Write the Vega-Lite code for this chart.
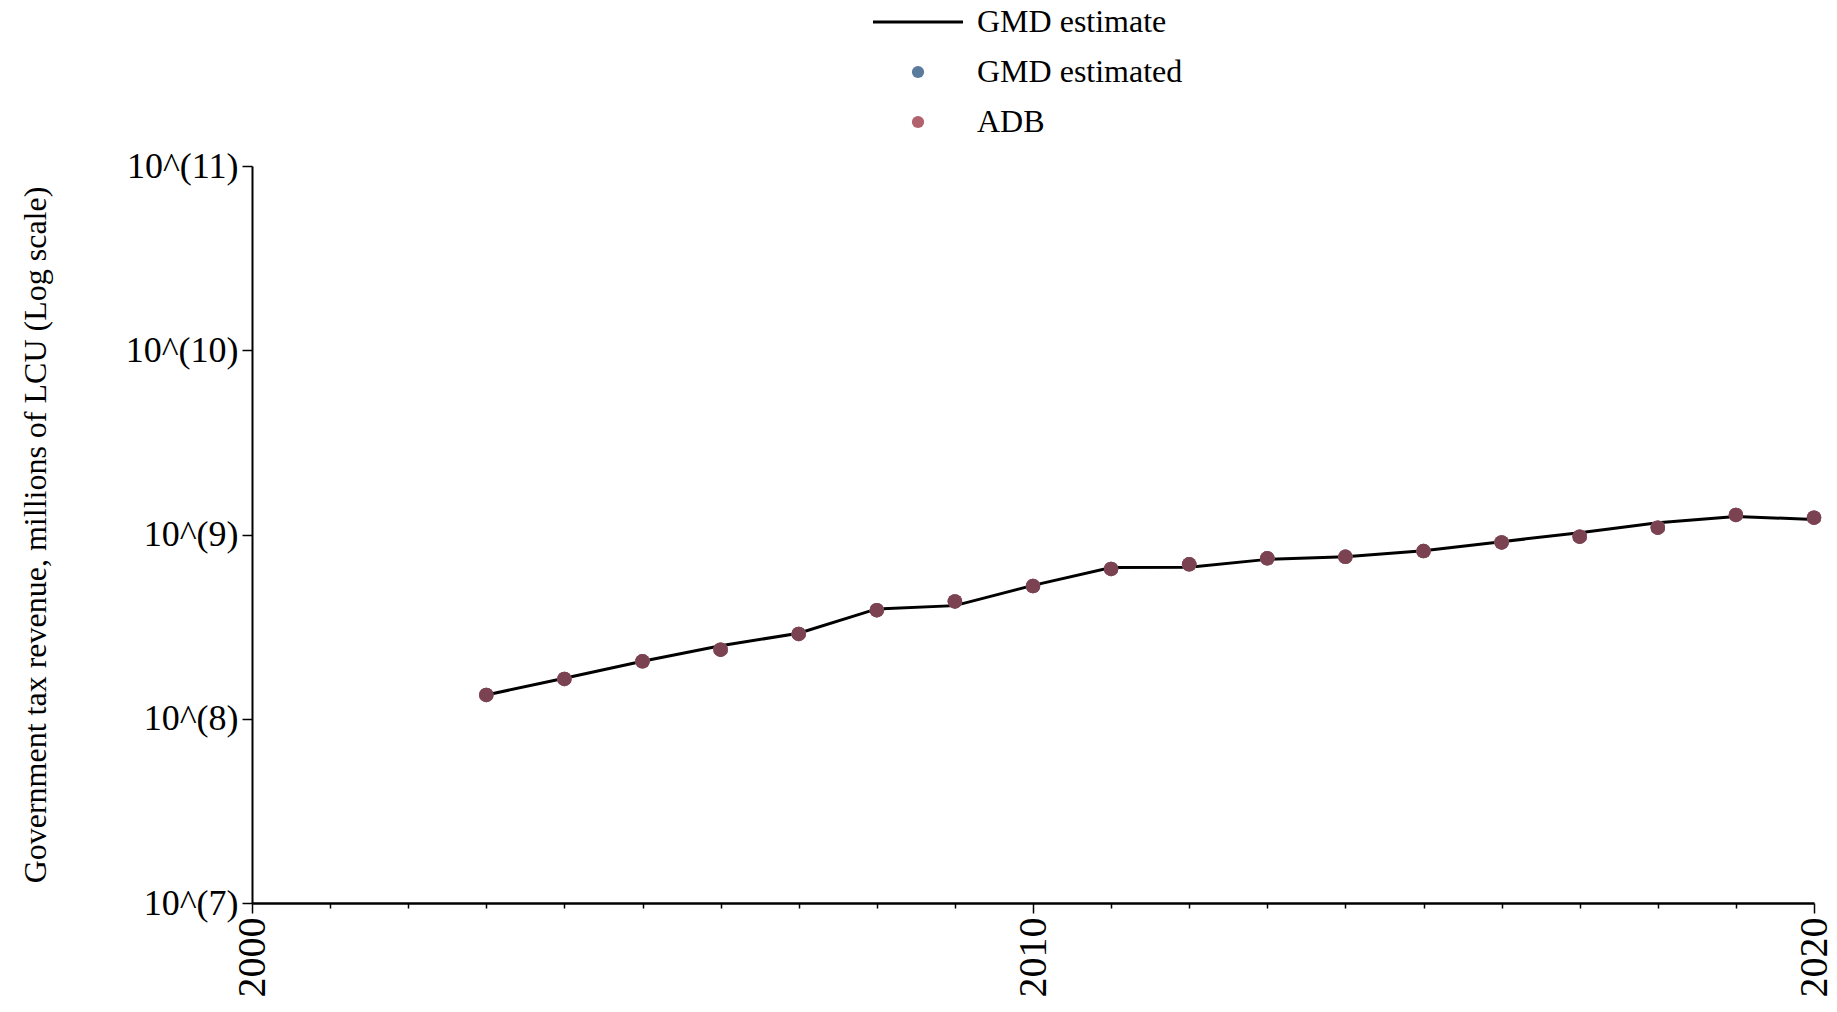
{
  "$schema": "https://vega.github.io/schema/vega-lite/v6.json",
  "width": 1562,
  "height": 737,
  "autosize": {"type": "none"},
  "padding": {"left": 252, "top": 166, "right": 23, "bottom": 109},
  "background": "white",
  "config": {
    "view": {"stroke": null},
    "font": "Liberation Serif",
    "axis": {"grid": false, "domainColor": "black", "tickColor": "black", "labelColor": "black", "titleColor": "black", "labelFont": "Liberation Serif", "titleFont": "Liberation Serif", "titleFontWeight": "normal"},
    "legend": {"labelFont": "Liberation Serif", "labelColor": "black"}
  },
  "data": {
    "values": [
      {"year": 2003, "series": "GMD estimate", "value": 134600000},
      {"year": 2004, "series": "GMD estimate", "value": 166000000},
      {"year": 2005, "series": "GMD estimate", "value": 205100000},
      {"year": 2006, "series": "GMD estimate", "value": 248900000},
      {"year": 2007, "series": "GMD estimate", "value": 291100000},
      {"year": 2008, "series": "GMD estimate", "value": 394500000},
      {"year": 2009, "series": "GMD estimate", "value": 411100000},
      {"year": 2010, "series": "GMD estimate", "value": 529700000},
      {"year": 2011, "series": "GMD estimate", "value": 662200000},
      {"year": 2012, "series": "GMD estimate", "value": 663700000},
      {"year": 2013, "series": "GMD estimate", "value": 732800000},
      {"year": 2014, "series": "GMD estimate", "value": 756800000},
      {"year": 2015, "series": "GMD estimate", "value": 816600000},
      {"year": 2016, "series": "GMD estimate", "value": 914100000},
      {"year": 2017, "series": "GMD estimate", "value": 1023300000},
      {"year": 2018, "series": "GMD estimate", "value": 1158800000},
      {"year": 2019, "series": "GMD estimate", "value": 1250300000},
      {"year": 2020, "series": "GMD estimate", "value": 1207800000},
      {"year": 2003, "series": "GMD estimated", "value": 134600000},
      {"year": 2004, "series": "GMD estimated", "value": 164400000},
      {"year": 2005, "series": "GMD estimated", "value": 205100000},
      {"year": 2006, "series": "GMD estimated", "value": 237100000},
      {"year": 2007, "series": "GMD estimated", "value": 288400000},
      {"year": 2008, "series": "GMD estimated", "value": 388200000},
      {"year": 2009, "series": "GMD estimated", "value": 433500000},
      {"year": 2010, "series": "GMD estimated", "value": 524800000},
      {"year": 2011, "series": "GMD estimated", "value": 650100000},
      {"year": 2012, "series": "GMD estimated", "value": 688700000},
      {"year": 2013, "series": "GMD estimated", "value": 743000000},
      {"year": 2014, "series": "GMD estimated", "value": 756800000},
      {"year": 2015, "series": "GMD estimated", "value": 812800000},
      {"year": 2016, "series": "GMD estimated", "value": 905700000},
      {"year": 2017, "series": "GMD estimated", "value": 972700000},
      {"year": 2018, "series": "GMD estimated", "value": 1088900000},
      {"year": 2019, "series": "GMD estimated", "value": 1276400000},
      {"year": 2020, "series": "GMD estimated", "value": 1233100000},
      {"year": 2003, "series": "ADB", "value": 134600000},
      {"year": 2004, "series": "ADB", "value": 164400000},
      {"year": 2005, "series": "ADB", "value": 205100000},
      {"year": 2006, "series": "ADB", "value": 237100000},
      {"year": 2007, "series": "ADB", "value": 288400000},
      {"year": 2008, "series": "ADB", "value": 388200000},
      {"year": 2009, "series": "ADB", "value": 433500000},
      {"year": 2010, "series": "ADB", "value": 524800000},
      {"year": 2011, "series": "ADB", "value": 650100000},
      {"year": 2012, "series": "ADB", "value": 688700000},
      {"year": 2013, "series": "ADB", "value": 743000000},
      {"year": 2014, "series": "ADB", "value": 756800000},
      {"year": 2015, "series": "ADB", "value": 812800000},
      {"year": 2016, "series": "ADB", "value": 905700000},
      {"year": 2017, "series": "ADB", "value": 972700000},
      {"year": 2018, "series": "ADB", "value": 1088900000},
      {"year": 2019, "series": "ADB", "value": 1276400000},
      {"year": 2020, "series": "ADB", "value": 1233100000}
    ]
  },
  "encoding": {
    "x": {
      "field": "year", "type": "quantitative",
      "scale": {"domain": [2000, 2020], "nice": false, "zero": false},
      "axis": {
        "title": null,
        "values": [2000,2001,2002,2003,2004,2005,2006,2007,2008,2009,2010,2011,2012,2013,2014,2015,2016,2017,2018,2019,2020],
        "format": "d",
        "labelExpr": "datum.value % 10 === 0 ? datum.label : ''",
        "labelAngle": 270,
        "labelFontSize": 40,
        "labelPadding": 4,
        "labelFlush": false,
        "labelOverlap": false,
        "tickSize": {"condition": {"test": "datum.value % 10 === 0", "value": 10}, "value": 5},
        "tickWidth": 1.5,
        "domainWidth": 2.5
      }
    },
    "y": {
      "field": "value", "type": "quantitative",
      "scale": {"type": "log", "domain": [10000000, 100000000000], "nice": false},
      "axis": {
        "title": "Government tax revenue, millions of LCU (Log scale)",
        "titleFontSize": 32,
        "titleX": -217,
        "titleBaseline": "middle",
        "values": [10000000, 100000000, 1000000000, 10000000000, 100000000000],
        "labelExpr": "'10^(' + round(log(datum.value)/LN10) + ')'",
        "labelFontSize": 36,
        "labelPadding": 4,
        "labelFlush": false,
        "tickSize": 10,
        "tickWidth": 1.5,
        "domainWidth": 2
      }
    }
  },
  "layer": [
    {
      "transform": [{"filter": "datum.series === 'GMD estimate'"}],
      "mark": {"type": "line", "strokeWidth": 3},
      "encoding": {
        "color": {
          "field": "series", "type": "nominal",
          "scale": {"domain": ["GMD estimate", "GMD estimated", "ADB"], "range": ["black", "#5a7b9c", "#b2626d"]},
          "legend": {
            "title": null,
            "orient": "none",
            "legendX": 621,
            "legendY": -160,
            "direction": "vertical",
            "padding": 0,
            "labelFontSize": 32,
            "labelLimit": 500,
            "rowPadding": 18,
            "encode": {
              "symbols": {
                "update": {
                  "x": {"value": 45},
                  "shape": {"signal": "datum.value === 'GMD estimate' ? 'stroke' : 'circle'"},
                  "size": {"signal": "datum.value === 'GMD estimate' ? 8100 : 150"},
                  "strokeWidth": {"signal": "datum.value === 'GMD estimate' ? 3 : 0"},
                  "stroke": {"signal": "datum.value === 'GMD estimate' ? 'black' : 'transparent'"},
                  "fill": {"signal": "datum.value === 'GMD estimate' ? 'transparent' : scale('color', datum.value)"},
                  "opacity": {"value": 1}
                }
              },
              "labels": {
                "update": {
                  "x": {"value": 104}
                }
              }
            }
          }
        }
      }
    },
    {
      "transform": [{"filter": "datum.series !== 'GMD estimate'"}],
      "mark": {"type": "point", "filled": true, "size": 210, "opacity": 1},
      "encoding": {
        "color": {"field": "series", "type": "nominal"}
      }
    },
    {
      "transform": [{"filter": "datum.series === 'ADB'"}],
      "mark": {"type": "point", "filled": true, "size": 210, "opacity": 1, "color": "#7b4352"}
    }
  ]
}
